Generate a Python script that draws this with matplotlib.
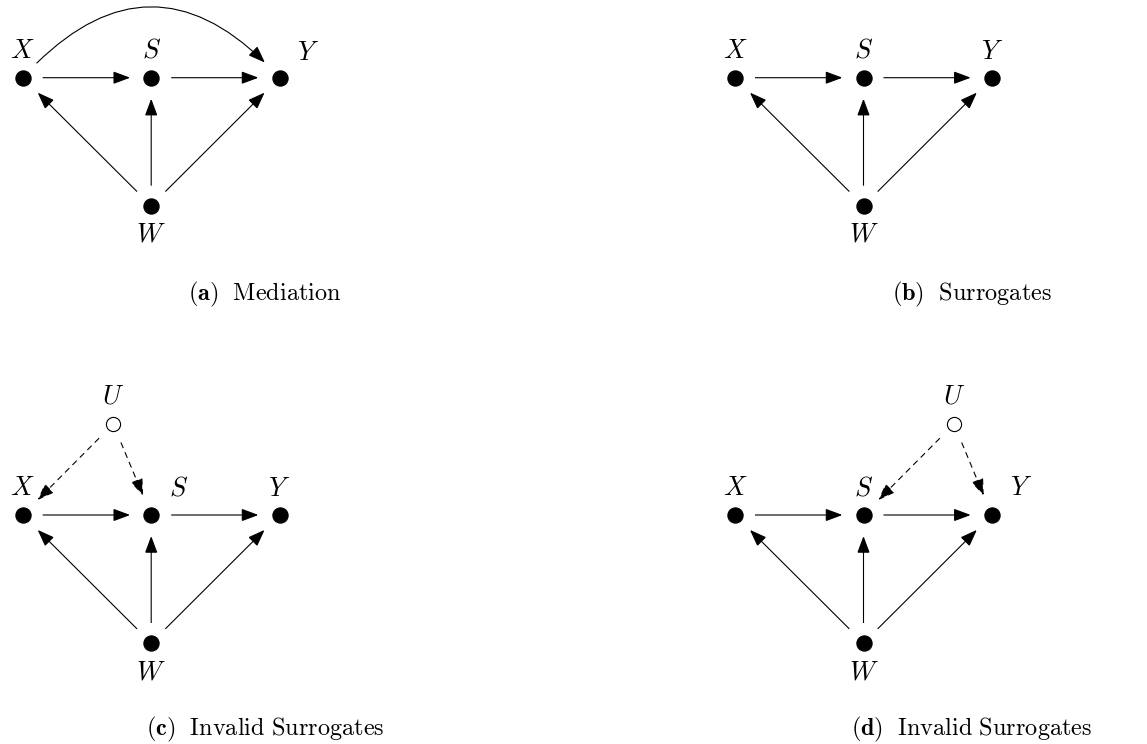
import matplotlib
matplotlib.use('Agg')
import matplotlib.pyplot as plt
from matplotlib.patches import FancyArrowPatch

plt.rcParams['mathtext.fontset'] = 'cm'

# panels of the figure: position of node X (pixels) and caption
panels = ['a', 'b', 'c', 'd']
panel_x = [22.7, 735.0, 22.7, 735.0]
panel_y = [77.7, 77.7, 515.0, 515.0]
captions = ['Mediation', 'Surrogates', 'Invalid Surrogates', 'Invalid Surrogates']
caption_x = [265, 972, 265, 972]
caption_y = [300, 300, 735.5, 735.5]

# node layout relative to X (pixels, y downwards)
node_names = ['X', 'S', 'Y', 'W']
node_dx = [0.0, 128.5, 256.8, 128.5]
node_dy = [0.0, 0.0, 0.0, 128.0]
u_dx = {'c': 90.5, 'd': 219.0}
u_dy = {'c': -91.0, 'd': -91.0}

# edges
solid_edges = [('X', 'S'), ('S', 'Y'), ('W', 'X'), ('W', 'S'), ('W', 'Y')]
curved_edges = {'a': [('X', 'Y')]}
dashed_edges = {'c': [('U', 'X'), ('U', 'S')], 'd': [('U', 'S'), ('U', 'Y')]}

# label offsets from the node (pixels)
label_off = {'X': (0, -27), 'S': (0, -27), 'Y': (0, -26), 'W': (0, 29), 'U': (0, -28)}
label_special = {('a', 'Y'): (29, -25), ('d', 'Y'): (29, -27), ('c', 'S'): (27, -27)}

fig = plt.figure(figsize=(11.47, 7.44), dpi=100)
ax = fig.add_axes([0, 0, 1, 1])
ax.set_xlim(0, 1147)
ax.set_ylim(744, 0)
ax.axis('off')

px = 0.72  # pixels -> points
lw = 0.8
arrow = '-|>,head_length=10.5,head_width=3.9'


def draw_arrow(p, q, style='-', rad=0.0):
    a = FancyArrowPatch(p, q, arrowstyle=arrow, mutation_scale=1,
                        connectionstyle=f'arc3,rad={rad}',
                        shrinkA=20 * px, shrinkB=21 * px,
                        color='black', lw=lw, linestyle=style,
                        joinstyle='miter', capstyle='butt')
    ax.add_patch(a)


for i, p in enumerate(panels):
    pos = {}
    for n, dx, dy in zip(node_names, node_dx, node_dy):
        pos[n] = (panel_x[i] + dx, panel_y[i] + dy)
    if p in u_dx:
        pos['U'] = (panel_x[i] + u_dx[p], panel_y[i] + u_dy[p])

    for s, t in solid_edges:
        draw_arrow(pos[s], pos[t])
    for s, t in curved_edges.get(p, []):
        draw_arrow(pos[s], pos[t], rad=-0.55)
    for s, t in dashed_edges.get(p, []):
        draw_arrow(pos[s], pos[t], style=(0, (5.5, 4)))

    for n in node_names:
        ax.plot(*pos[n], 'o', ms=10.8, color='black', zorder=5)
    if 'U' in pos:
        ax.plot(*pos['U'], 'o', ms=10.2, mfc='white', mec='black', mew=0.8, zorder=5)

    for n in pos:
        ox, oy = label_special.get((p, n), label_off[n])
        ax.text(pos[n][0] + ox, pos[n][1] + oy, f'${n}$', fontsize=19,
                ha='center', va='center')

    ax.text(caption_x[i], caption_y[i],
            r'$\mathbf{(' + p + r')}\ \ \mathrm{' + captions[i].replace(' ', r'\ ') + '}$',
            fontsize=17.5, ha='center', va='baseline')

fig.savefig('out.png', dpi=100)
